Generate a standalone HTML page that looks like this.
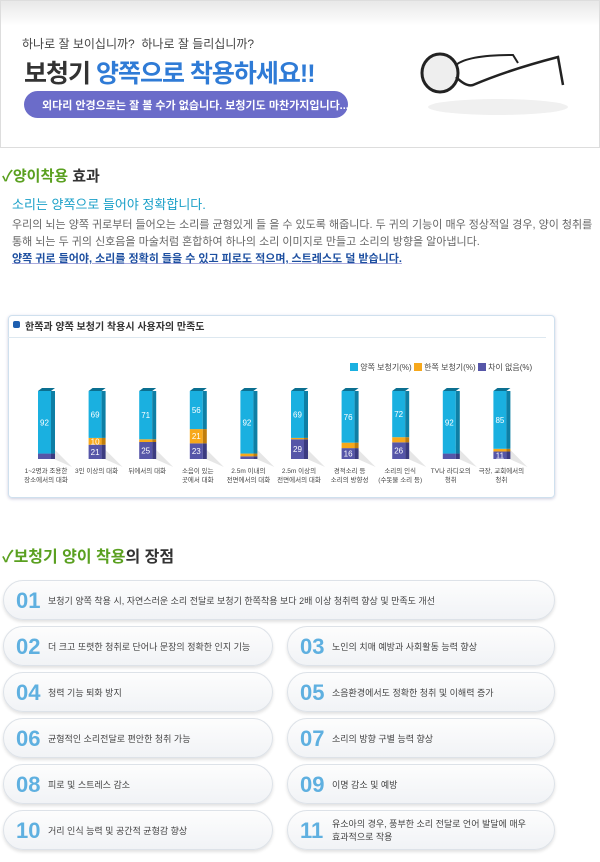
<!DOCTYPE html>
<html><head><meta charset="utf-8"><style>
body{margin:0;width:600px;height:862px;background:#fff;font-family:"Liberation Sans","Noto Sans CJK KR",sans-serif;position:relative;overflow:hidden}
.a{position:absolute;white-space:nowrap}
.pill{position:absolute;height:38px;border-radius:20px;background:linear-gradient(#fdfdfd,#f1f3f6);border:1px solid #dde2e8;box-shadow:0 2px 3px rgba(0,0,0,.12)}
.pill b{position:absolute;left:12px;top:7px;font-size:22px;color:#5fb0e0;font-weight:bold;letter-spacing:0}
.pill span{position:absolute;left:44px;top:13px;font-size:9px;color:#444}
</style></head><body>
<div class="a" style="left:0;top:0;width:598px;height:146px;border:1px solid #ddd;background:linear-gradient(#e8e8e8,#fff 25px,#fff)"></div>
<div class="a" style="left:22px;top:35px;font-size:12px;color:#444">하나로 잘 보이십니까?&nbsp; 하나로 잘 들리십니까?</div>
<div class="a" style="left:24px;top:54px;font-size:25px;font-weight:bold;color:#333;letter-spacing:-1px">보청기 <span style="color:#2f7bd6">양쪽으로 착용하세요!!</span></div>
<div class="a" style="left:24px;top:91px;width:324px;height:27px;border-radius:14px;background:#6b6cc9"></div>
<div class="a" style="left:42px;top:97px;font-size:11px;color:#fff;font-weight:bold">외다리 안경으로는 잘 볼 수가 없습니다. 보청기도 마찬가지입니다...</div>
<svg class="a" style="left:418px;top:45px" width="160" height="75">
<ellipse cx="80" cy="62" rx="70" ry="8" fill="#f0f0f0"/>
<ellipse cx="22" cy="28" rx="18" ry="19" fill="#eee" stroke="#222" stroke-width="3"/>
<path d="M38 20 Q50 10 95 10 L100 18" stroke="#222" stroke-width="2" fill="none"/>
<path d="M38 32 Q48 42 55 40 Q90 25 140 12 L145 40" stroke="#222" stroke-width="2.5" fill="none"/>
</svg>
<div class="a" style="left:2px;top:165px;font-size:15px;font-weight:bold;color:#333"><span style="color:#5aa020">✓양이착용</span> 효과</div>
<div class="a" style="left:12px;top:194px;font-size:13px;color:#1aa0c8">소리는 양쪽으로 들어야 정확합니다.</div>
<div class="a" style="left:12px;top:217px;font-size:11px;color:#666;line-height:17px">우리의 뇌는 양쪽 귀로부터 들어오는 소리를 균형있게 들 을 수 있도록 해줍니다. 두 귀의 기능이 매우 정상적일 경우, 양이 청취를<br>통해 뇌는 두 귀의 신호음을 마술처럼 혼합하여 하나의 소리 이미지로 만들고 소리의 방향을 알아냅니다.<br><span style="color:#1d4fa0;font-weight:bold;text-decoration:underline;text-decoration-color:#aad">양쪽 귀로 들어야, 소리를 정확히 들을 수 있고 피로도 적으며, 스트레스도 덜 받습니다.</span></div>
<div class="a" style="left:8px;top:315px;width:545px;height:181px;border:1px solid #cfe0ee;border-radius:4px;box-shadow:0 1px 3px #ccd"></div>
<div class="a" style="left:8px;top:337px;width:538px;height:1px;background:#dde8f0"></div>
<div class="a" style="left:13px;top:321px;width:7px;height:7px;background:#1d5fb0;border-radius:2px"></div>
<div class="a" style="left:25px;top:318px;font-size:10px;color:#333;font-weight:bold">한쪽과 양쪽 보청기 착용시 사용자의 만족도</div>
<div class="a" style="left:350px;top:362px;font-size:8px;color:#444"><span style="display:inline-block;width:8px;height:8px;background:#1ab0e0;vertical-align:-1px"></span> 양쪽 보청기(%) <span style="display:inline-block;width:8px;height:8px;background:#f7a81b;vertical-align:-1px"></span> 한쪽 보청기(%) <span style="display:inline-block;width:8px;height:8px;background:#5656a8;vertical-align:-1px"></span> 차이 없음(%)</div>
<svg class="a" style="left:0;top:380px" width="600" height="115" id="c"></svg>
<div class="a" style="left:2px;top:543px;font-size:16px;font-weight:bold;color:#333"><span style="color:#5aa020">✓보청기 양이 착용</span>의 장점</div>
<div class="pill" style="left:3px;top:580px;width:550px"><b>01</b><span>보청기 양쪽 착용 시, 자연스러운 소리 전달로 보청기 한쪽착용 보다 2배 이상 청취력 향상 및 만족도 개선</span></div>
<div class="pill" style="left:3px;top:626px;width:268px"><b>02</b><span>더 크고 또렷한 청취로 단어나 문장의 정확한 인지 기능</span></div>
<div class="pill" style="left:287px;top:626px;width:266px"><b>03</b><span>노인의 치매 예방과 사회활동 능력 향상</span></div>
<div class="pill" style="left:3px;top:672px;width:268px"><b>04</b><span>청력 기능 퇴화 방지</span></div>
<div class="pill" style="left:287px;top:672px;width:266px"><b>05</b><span>소음환경에서도 정확한 청취 및 이해력 증가</span></div>
<div class="pill" style="left:3px;top:718px;width:268px"><b>06</b><span>균형적인 소리전달로 편안한 청취 가능</span></div>
<div class="pill" style="left:287px;top:718px;width:266px"><b>07</b><span>소리의 방향 구별 능력 향상</span></div>
<div class="pill" style="left:3px;top:764px;width:268px"><b>08</b><span>피로 및 스트레스 감소</span></div>
<div class="pill" style="left:287px;top:764px;width:266px"><b>09</b><span>이명 감소 및 예방</span></div>
<div class="pill" style="left:3px;top:810px;width:268px"><b>10</b><span>거리 인식 능력 및 공간적 균형감 향상</span></div>
<div class="pill" style="left:287px;top:810px;width:266px"><b>11</b><span style="top:7px;line-height:13px">유소아의 경우, 풍부한 소리 전달로 언어 발달에 매우<br>효과적으로 작용</span></div>
<script>
var d=[[92,0,8,"1~2명과 조용한","장소에서의 대화"],[69,10,21,"3인 이상의 대화",""],[71,4,25,"뒤에서의 대화",""],[56,21,23,"소음이 있는","곳에서 대화"],[92,4,4,"2.5m 이내의","전면에서의 대화"],[69,2,29,"2.5m 이상의","전면에서의 대화"],[76,8,16,"경적소리 등","소리의 방향성"],[72,8,26,"소리의 인식","(수돗물 소리 등)"],[92,0,8,"TV나 라디오의","청취"],[85,4,11,"극장, 교회에서의","청취"]];
var s="",base=79,k=0.68;
d.forEach(function(r,i){var x=38+i*50.6,y=base,c=[[r[2],"#5656a8","#3b3b80"],[r[1],"#f7a81b","#c07d0c"],[r[0],"#1ab0e0","#0e7fa5"]];
var tot=r[0]+r[1]+r[2];
s+='<polygon points="'+(x+12)+','+(base-14)+' '+(x+34)+','+(base+8)+' '+(x+16)+','+(base)+'" fill="#e6e6e6"/>';
c.forEach(function(q){if(!q[0])return;var h=q[0]*k*100/tot;y-=h;
s+='<rect x="'+x+'" y="'+y+'" width="13" height="'+h+'" fill="'+q[1]+'"/><rect x="'+(x+13)+'" y="'+y+'" width="4" height="'+h+'" fill="'+q[2]+'"/>';
if(h>6)s+='<text x="'+(x+6.5)+'" y="'+(y+h/2+3)+'" font-size="8" fill="#fff" text-anchor="middle">'+q[0]+'</text>';});
s+='<polygon points="'+x+','+y+' '+(x+13)+','+y+' '+(x+17)+','+(y-3)+' '+(x+4)+','+(y-3)+'" fill="#0b6f90"/>';
s+='<text x="'+(x+8)+'" y="93" font-size="6.5" fill="#444" text-anchor="middle">'+r[3]+'</text><text x="'+(x+8)+'" y="102" font-size="6.5" fill="#444" text-anchor="middle">'+r[4]+'</text>';});
document.getElementById("c").innerHTML=s;
</script>
</body></html>
